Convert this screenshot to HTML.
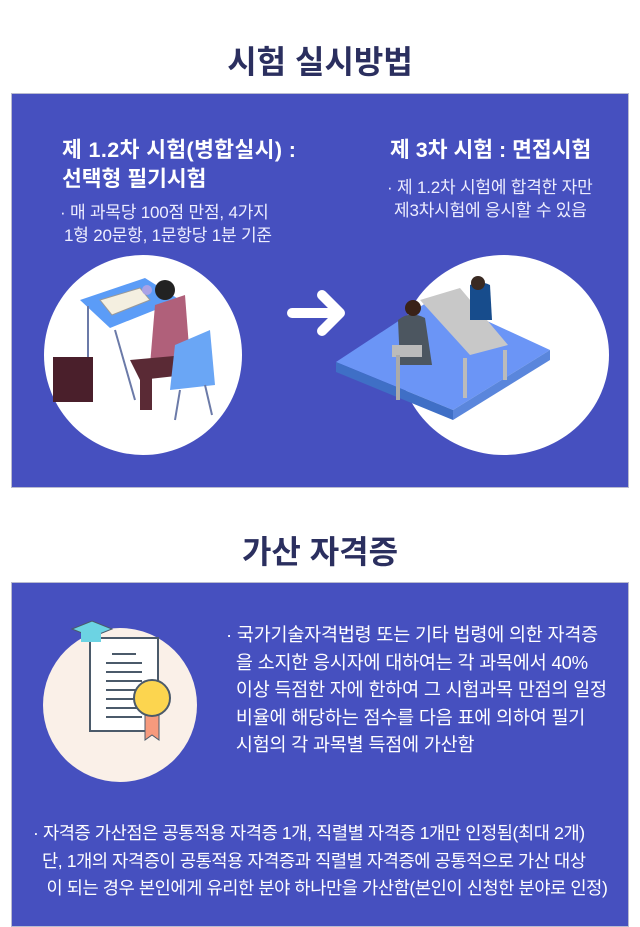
<!DOCTYPE html>
<html><head><meta charset="utf-8"><style>
*{margin:0;padding:0;box-sizing:border-box}
body{width:640px;height:925px;background:#fff;position:relative;overflow:hidden;font-family:"Liberation Sans","Noto Sans CJK KR",sans-serif}
.t{position:absolute;white-space:nowrap;letter-spacing:0}
.h{color:#2b2f5f;font-weight:bold;font-size:32px;left:0;width:640px;text-align:center}
.box{position:absolute;left:11px;width:618px;background:#4650bf;border:1px solid #b9bbd0}
.w{color:#fff}
.b{font-weight:bold;font-size:21.5px}
.s{font-size:17px;color:#eef;letter-spacing:-0.2px}
.m{font-size:18.5px;color:#fff;line-height:27.5px;letter-spacing:-0.2px}
</style></head><body>
<div class="t h" style="top:37px">시험 실시방법</div>
<div class="box" style="top:93px;height:395px"></div>
<div class="t w b" style="left:62px;top:133px;letter-spacing:0.4px">제 1.2차 시험(병합실시) :</div>
<div class="t w b" style="left:62px;top:162px">선택형 필기시험</div>
<div class="t s" style="left:60px;top:198px">· 매 과목당 100점 만점, 4가지</div>
<div class="t s" style="left:64px;top:221px">1형 20문항, 1문항당 1분 기준</div>
<div class="t w b" style="left:390px;top:133px">제 3차 시험 : 면접시험</div>
<div class="t s" style="left:387px;top:173px">· 제 1.2차 시험에 합격한 자만</div>
<div class="t s" style="left:394px;top:196px">제3차시험에 응시할 수 있음</div>
<svg style="position:absolute;left:0;top:0" width="640" height="500">
<ellipse cx="143" cy="355" rx="99" ry="100" fill="#fff"/>
<path d="M80 300 L145 278 L180 300 L110 328 Z" fill="#5b9cf7"/>
<line x1="88" y1="306" x2="88" y2="370" stroke="#6b7aa8" stroke-width="2"/>
<line x1="115" y1="330" x2="135" y2="400" stroke="#6b7aa8" stroke-width="2"/>
<path d="M100 300 L140 288 L150 300 L112 315Z" fill="#f4efe0" stroke="#999"/>
<circle cx="147" cy="290" r="5" fill="#a9a2e6"/>
<circle cx="165" cy="290" r="10" fill="#222"/>
<path d="M155 305 L185 295 L190 360 L150 365 Z" fill="#b0607a"/>
<path d="M130 360 L185 355 L185 375 L140 380 Z" fill="#5a2a35"/>
<rect x="140" y="370" width="12" height="40" fill="#5a2a35"/>
<path d="M175 345 L210 330 L215 385 L170 390Z" fill="#6aa6f5"/>
<line x1="180" y1="390" x2="175" y2="420" stroke="#6b7aa8" stroke-width="2"/>
<line x1="205" y1="385" x2="212" y2="415" stroke="#6b7aa8" stroke-width="2"/>
<rect x="53" y="357" width="40" height="45" fill="#4a1f2b"/>
<path d="M292 313 L340 313 M322 295 L340 313 L322 331" stroke="#fff" stroke-width="10" fill="none" stroke-linecap="round" stroke-linejoin="round"/>
<ellipse cx="504" cy="355" rx="105" ry="100" fill="#fff"/>
<path d="M336 362 L435 297 L550 350 L453 410 Z" fill="#6b95f6"/>
<path d="M336 362 L453 410 L453 420 L336 372Z" fill="#3f6fc6"/>
<path d="M453 410 L550 350 L550 360 L453 420Z" fill="#5a86dc"/>
<path d="M420 300 L460 288 L508 345 L470 355 Z" fill="#c8c8c8"/>
<line x1="505" y1="350" x2="505" y2="380" stroke="#bbb" stroke-width="4"/>
<line x1="465" y1="358" x2="465" y2="398" stroke="#bbb" stroke-width="4"/>
<path d="M470 285 Q480 280 490 285 L492 320 L470 320Z" fill="#174c8c"/>
<circle cx="478" cy="283" r="7" fill="#3a2a22"/>
<path d="M398 320 Q410 310 425 318 L432 365 L400 365Z" fill="#4c5660"/>
<circle cx="413" cy="308" r="8" fill="#3a2218"/>
<rect x="392" y="345" width="30" height="12" fill="#bbb"/>
<line x1="398" y1="355" x2="398" y2="400" stroke="#aaa" stroke-width="4"/>
</svg>
<div class="t h" style="top:527px">가산 자격증</div>
<div class="box" style="top:582px;height:345px"></div>
<svg style="position:absolute;left:0;top:580px" width="240" height="220">
<circle cx="120" cy="125" r="77" fill="#faf0e8"/>
<rect x="90" y="58" width="68" height="93" fill="#fff" stroke="#4b5a6a" stroke-width="2"/>
<g stroke="#4b5a6a" stroke-width="2"><line x1="112" y1="74" x2="136" y2="74"/><line x1="106" y1="83" x2="142" y2="83"/><line x1="106" y1="92" x2="142" y2="92"/><line x1="106" y1="101" x2="142" y2="101"/><line x1="106" y1="110" x2="142" y2="110"/><line x1="106" y1="119" x2="142" y2="119"/><line x1="106" y1="128" x2="142" y2="128"/><line x1="106" y1="137" x2="142" y2="137"/></g>
<path d="M145 135 L145 160 L152 155 L159 160 L159 135Z" fill="#f69a7d" stroke="#4b5a6a"/>
<circle cx="152" cy="118" r="18" fill="#fcd54f" stroke="#4b5a6a" stroke-width="2"/>
<path d="M72 49 L92 41 L112 49 L92 57Z" fill="#6cd3e3" stroke="#4b5a6a"/>
<rect x="81" y="52" width="20" height="10" fill="#6cd3e3"/>
</svg>
<div class="t m" style="left:226px;top:621px">· 국가기술자격법령 또는 기타 법령에 의한 자격증<br>&nbsp;&nbsp;을 소지한 응시자에 대하여는 각 과목에서 40%<br>&nbsp;&nbsp;이상 득점한 자에 한하여 그 시험과목 만점의 일정<br>&nbsp;&nbsp;비율에 해당하는 점수를 다음 표에 의하여 필기<br>&nbsp;&nbsp;시험의 각 과목별 득점에 가산함</div>
<div class="t m" style="left:33px;top:820px;font-size:17.6px;letter-spacing:-0.4px">· 자격증 가산점은 공통적용 자격증 1개, 직렬별 자격증 1개만 인정됨(최대 2개)<br>&nbsp;&nbsp;단, 1개의 자격증이 공통적용 자격증과 직렬별 자격증에 공통적으로 가산 대상<br>&nbsp;&nbsp;&nbsp;이 되는 경우 본인에게 유리한 분야 하나만을 가산함(본인이 신청한 분야로 인정)</div>
</body></html>
